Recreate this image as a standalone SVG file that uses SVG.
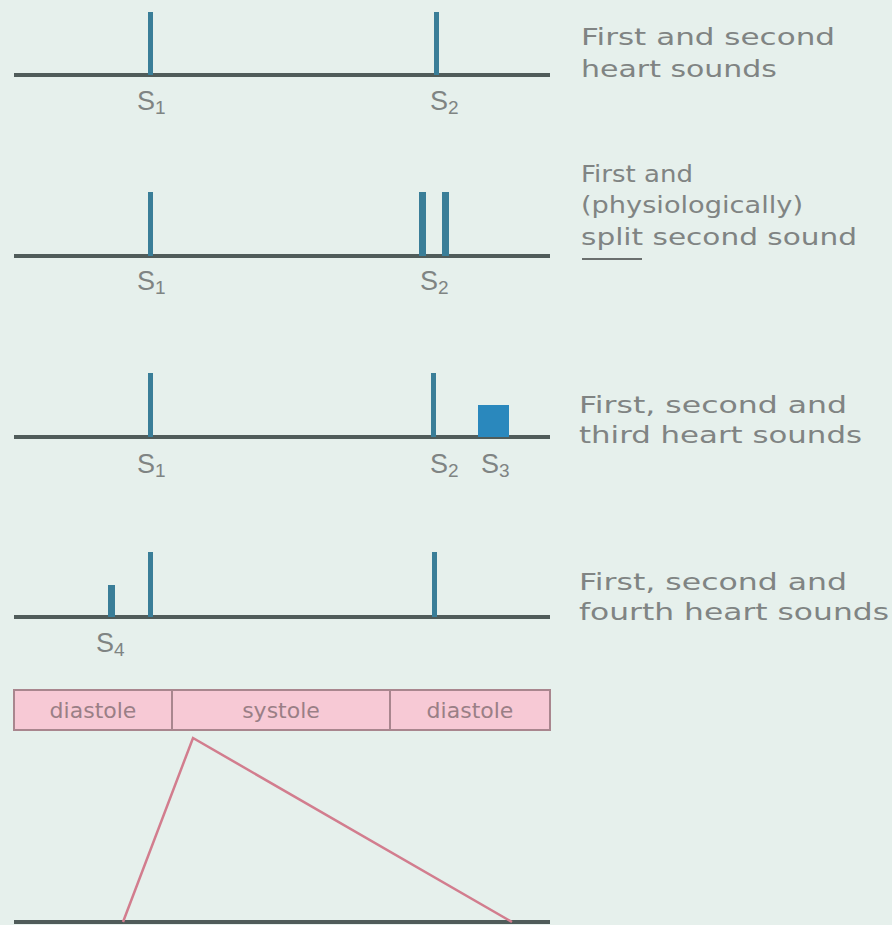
<svg xmlns="http://www.w3.org/2000/svg" width="892" height="925" viewBox="0 0 892 925">
<style>
.base{stroke:#505c5a;stroke-width:4;fill:none}
.spike{fill:#3a7e98}
.lbl{font-family:"Liberation Sans",Arial,sans-serif;font-size:27px;fill:#7f8483}
.sub{font-size:19px}
.desc{font-family:"DejaVu Sans","Liberation Sans",sans-serif;font-size:23px;fill:#808483}
.bar{fill:#f7c9d5;stroke:#a9868e;stroke-width:2}
.bartxt{font-family:"DejaVu Sans","Liberation Sans",sans-serif;font-size:22px;fill:#9a7f86;text-anchor:middle}
</style>
<rect x="0" y="0" width="892" height="925" fill="#e6f0ec"/>

<g id="panel1">
<line class="base" x1="14" y1="75" x2="550" y2="75"/>
<rect class="spike" x="148" y="12" width="5" height="63"/>
<rect class="spike" x="434" y="12" width="5" height="63"/>
<text class="lbl" x="137" y="110">S<tspan class="sub" dy="4">1</tspan></text>
<text class="lbl" x="430" y="110">S<tspan class="sub" dy="4">2</tspan></text>
<text class="desc" x="581" y="45" textLength="254" lengthAdjust="spacingAndGlyphs">First and second</text>
<text class="desc" x="581" y="77" textLength="196" lengthAdjust="spacingAndGlyphs">heart sounds</text>
</g>

<g id="panel2">
<line class="base" x1="14" y1="256" x2="550" y2="256"/>
<rect class="spike" x="148" y="192" width="5" height="64"/>
<rect class="spike" x="419" y="192" width="7" height="64"/>
<rect class="spike" x="442" y="192" width="7" height="64"/>
<text class="lbl" x="137" y="290">S<tspan class="sub" dy="4">1</tspan></text>
<text class="lbl" x="420" y="290">S<tspan class="sub" dy="4">2</tspan></text>
<text class="desc" x="581" y="182" textLength="112" lengthAdjust="spacingAndGlyphs">First and</text>
<text class="desc" x="581" y="213" textLength="222" lengthAdjust="spacingAndGlyphs">(physiologically)</text>
<text class="desc" x="581" y="245" textLength="276" lengthAdjust="spacingAndGlyphs">split second sound</text>
<line x1="582" y1="259" x2="642" y2="259" stroke="#6a6f6e" stroke-width="2"/>
</g>

<g id="panel3">
<line class="base" x1="14" y1="437" x2="550" y2="437"/>
<rect class="spike" x="148" y="373" width="5" height="64"/>
<rect class="spike" x="431" y="373" width="5" height="64"/>
<rect x="478" y="405" width="31" height="32" fill="#2a88bd"/>
<text class="lbl" x="137" y="473">S<tspan class="sub" dy="4">1</tspan></text>
<text class="lbl" x="430" y="473">S<tspan class="sub" dy="4">2</tspan></text>
<text class="lbl" x="481" y="473">S<tspan class="sub" dy="4">3</tspan></text>
<text class="desc" x="579" y="413" textLength="268" lengthAdjust="spacingAndGlyphs">First, second and</text>
<text class="desc" x="579" y="443" textLength="283" lengthAdjust="spacingAndGlyphs">third heart sounds</text>
</g>

<g id="panel4">
<line class="base" x1="14" y1="617" x2="550" y2="617"/>
<rect class="spike" x="108" y="585" width="7" height="32"/>
<rect class="spike" x="148" y="552" width="5" height="65"/>
<rect class="spike" x="432" y="552" width="5" height="65"/>
<text class="lbl" x="96" y="652">S<tspan class="sub" dy="4">4</tspan></text>
<text class="desc" x="579" y="590" textLength="268" lengthAdjust="spacingAndGlyphs">First, second and</text>
<text class="desc" x="579" y="620" textLength="310" lengthAdjust="spacingAndGlyphs">fourth heart sounds</text>
</g>

<g id="phases">
<rect class="bar" x="14" y="690" width="536" height="40"/>
<line x1="172" y1="690" x2="172" y2="730" stroke="#a9868e" stroke-width="2"/>
<line x1="390" y1="690" x2="390" y2="730" stroke="#a9868e" stroke-width="2"/>
<text class="bartxt" x="93" y="718">diastole</text>
<text class="bartxt" x="281" y="718">systole</text>
<text class="bartxt" x="470" y="718">diastole</text>
</g>

<g id="pressure">
<line class="base" x1="14" y1="922" x2="550" y2="922" stroke-width="5"/>
<polyline points="123,922 193,738 512,922" fill="none" stroke="#d27d8e" stroke-width="2.5"/>
</g>
</svg>
